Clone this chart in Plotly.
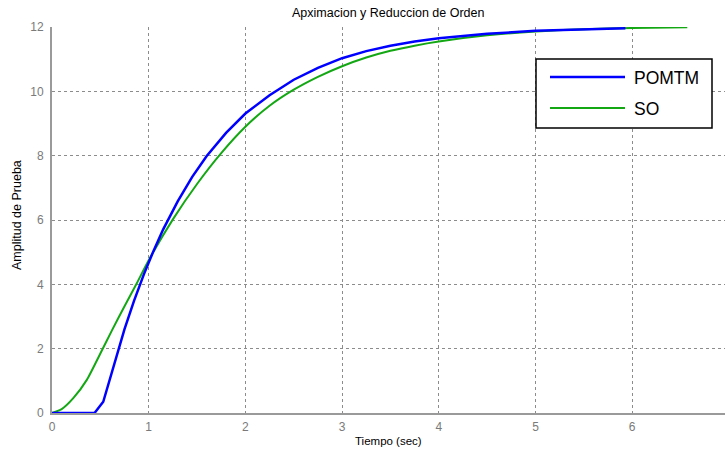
import plotly.graph_objects as go

# Step responses: first-order-plus-dead-time model vs. second-order model
t_pomtm = [0, 0.44, 0.53, 0.58, 0.65, 0.75, 0.85, 0.95, 1.05, 1.15, 1.3, 1.45,
           1.6, 1.8, 2.0, 2.25, 2.5, 2.75, 3.0, 3.25, 3.5, 3.75, 4.0, 4.5,
           5.0, 5.5, 5.93]
y_pomtm = [0, 0, 0.35, 0.87, 1.62, 2.61, 3.5, 4.31, 5.04, 5.71, 6.58, 7.34,
           7.99, 8.71, 9.31, 9.88, 10.36, 10.73, 11.03, 11.25, 11.42, 11.55, 11.65, 11.79,
           11.88, 11.93, 11.96]

t_so = [0, 0.1, 0.22, 0.36, 0.5, 0.62, 0.75, 0.88, 1.0, 1.25, 1.5, 1.75, 2.0,
        2.25, 2.5, 2.75, 3.0, 3.25, 3.5, 3.75, 4.0, 4.5, 5.0, 5.5, 6.0, 6.57]
y_so = [0, 0.12, 0.46, 1.03, 1.85, 2.57, 3.32, 4.05, 4.75, 6.02, 7.12, 8.08, 8.9,
        9.55, 10.05, 10.45, 10.78, 11.05, 11.26, 11.42, 11.55, 11.74, 11.86, 11.93, 11.97, 11.99]

x_ticks = [0, 1, 2, 3, 4, 5, 6]
y_ticks = [0, 2, 4, 6, 8, 10, 12]

BLUE = "#0000FF"
GREEN = "#13A813"
GRID = "#8c8c8c"
AXIS = "#9a9a9a"
FONT = "Liberation Sans, Arial, sans-serif"

fig = go.Figure()
fig.add_trace(go.Scatter(x=t_so, y=y_so, mode="lines", name="SO",
                         line=dict(color=GREEN, width=2, shape="spline", smoothing=0.6),
                         showlegend=False))
fig.add_trace(go.Scatter(x=t_pomtm, y=y_pomtm, mode="lines", name="POMTM",
                         line=dict(color=BLUE, width=2.5), showlegend=False))

axis_common = dict(showgrid=True, gridcolor=GRID, griddash="3px,3px", gridwidth=1,
                   showline=True, linecolor=AXIS, linewidth=2, zeroline=False,
                   ticks="", tickfont=dict(family=FONT, size=12, color="#7a7a7a"))

fig.update_xaxes(range=[0, 6.96], tickvals=x_ticks, ticklabelstandoff=2, **axis_common)
fig.update_yaxes(range=[0, 12], tickvals=y_ticks, ticklabelstandoff=4, **axis_common)

# Custom legend box, placed in pixels relative to the figure
lx0, lx1, ly0, ly1 = 536, 712, 59, 128
W, H = 725, 450
L, R, T, B = 52, 0, 27, 37
pw, ph = W - L - R, H - T - B


def px(x):
    return (x - L) / pw


def py(y):
    return 1 - (y - T) / ph


shapes = [
    dict(type="rect", xref="paper", yref="paper", x0=px(lx0), x1=px(lx1),
         y0=py(ly1), y1=py(ly0), line=dict(color="black", width=1.5),
         fillcolor="white", layer="above"),
    dict(type="line", xref="paper", yref="paper", x0=px(550), x1=px(625),
         y0=py(77), y1=py(77), line=dict(color=BLUE, width=2.5), layer="above"),
    dict(type="line", xref="paper", yref="paper", x0=px(550), x1=px(625),
         y0=py(108), y1=py(108), line=dict(color=GREEN, width=2), layer="above"),
]

annotations = [
    dict(text="POMTM", xref="paper", yref="paper", x=px(632), y=py(78),
         xanchor="left", yanchor="middle", showarrow=False,
         font=dict(family=FONT, size=17.5, color="black")),
    dict(text="SO", xref="paper", yref="paper", x=px(632), y=py(109),
         xanchor="left", yanchor="middle", showarrow=False,
         font=dict(family=FONT, size=17.5, color="black")),
    dict(text="Apximacion y Reduccion de Orden", xref="paper", yref="paper",
         x=0.5, y=py(13), xanchor="center", yanchor="middle", showarrow=False,
         font=dict(family=FONT, size=12.5, color="black")),
    dict(text="Tiempo (sec)", xref="paper", yref="paper",
         x=0.5, y=py(441), xanchor="center", yanchor="middle", showarrow=False,
         font=dict(family=FONT, size=11.5, color="black")),
    dict(text="Amplitud de Prueba", xref="paper", yref="paper",
         x=px(17), y=py(215), xanchor="center", yanchor="middle", showarrow=False,
         textangle=-90, font=dict(family=FONT, size=12.5, color="black")),
]

fig.update_layout(
    width=W, height=H,
    margin=dict(l=L, r=R, t=T, b=B, pad=0),
    paper_bgcolor="white", plot_bgcolor="white",
    shapes=shapes, annotations=annotations,
    showlegend=False,
)

fig.write_html("out.html")
